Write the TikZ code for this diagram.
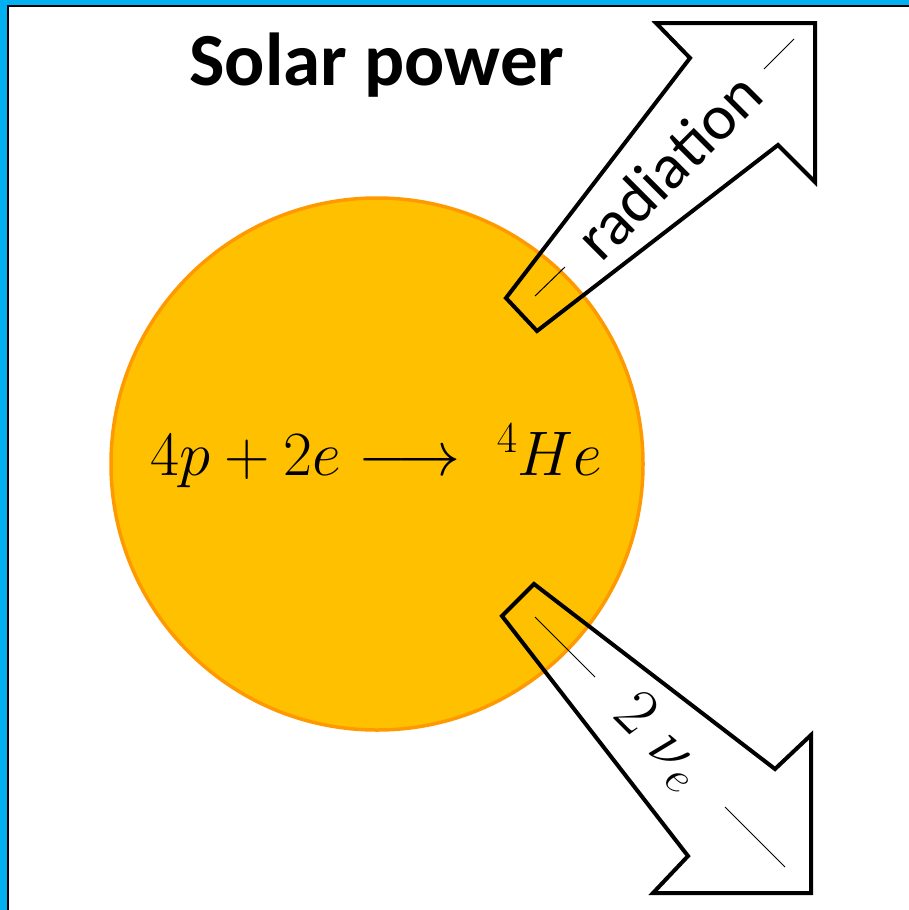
\RequirePackage{fix-cm}
\documentclass[tikz,border=0pt]{standalone}
\usepackage{fontspec}
\newfontfamily\carlito{Carlito}
\begin{document}
\begin{tikzpicture}[x=1pt,y=-1pt,
  arrowline/.style={line width=4pt, line join=miter, miter limit=10},
  axisline/.style={line width=1pt},
  sun/.style={fill=sunfill, draw=sunedge, line width=3.5pt}]
\definecolor{framecol}{HTML}{00B0F0}
\definecolor{sunfill}{HTML}{FFC000}
\definecolor{sunedge}{HTML}{FF9900}
\useasboundingbox (0,0) rectangle (909,910);
% frame
\fill[framecol] (0,0) rectangle (909,910);
\fill[white] (8,5) rectangle (915,915);
\draw[line width=2pt] (8,915) -- (8,5.5) -- (915,5.5);
% sun
\draw[sun] (377,464) circle (266);
% upper arrow
\draw[arrowline] (506,298) -- (690,58) -- (656,23) -- (815,23) -- (815,182) -- (778,145) -- (537,331) -- cycle;
\coordinate (ua1) at (535,296); \coordinate (ua2) at (565,267);
\coordinate (ua3) at (764,69); \coordinate (ua4) at (794,39);
\draw[axisline] (ua1) -- (ua2) (ua3) -- (ua4);
% lower arrow
\draw[arrowline] (534,584) -- (775,769) -- (811,735) -- (811,893) -- (653,893) -- (688,856) -- (502,616) -- cycle;
\coordinate (la1) at (535,617); \coordinate (la2) at (595,677);
\coordinate (la3) at (725,807); \coordinate (la4) at (785,867);
\draw[axisline] (la1) -- (la2) (la3) -- (la4);
% texts
\node[anchor=base, inner sep=0] (title) at (377,85) {\carlito\bfseries\fontsize{75}{90}\selectfont Solar power};
\node[rotate=45, inner sep=0] (rad) at (668,166) {\carlito\fontsize{64}{76}\selectfont radiation};
\node[anchor=base, inner sep=0] (eq) at (376.5,475) {\fontsize{63}{76}\selectfont $4p+2e\longrightarrow\ {}^4He$};
\node[rotate=-45, anchor=base west, inner sep=0] (nu) at (611,716) {\fontsize{66}{78}\selectfont $2\ \nu_e$};
\end{tikzpicture}
\end{document}
